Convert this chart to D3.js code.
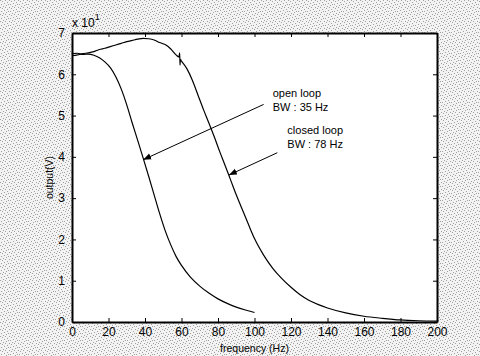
<!DOCTYPE html>
<html>
<head>
<meta charset="utf-8">
<script src="https://cdn.jsdelivr.net/npm/d3@7"></script>
<style>
  html, body { margin: 0; padding: 0; background: #fff; }
  svg { display: block; }
</style>
</head>
<body>
<svg id="chart" width="480" height="356"></svg>
<script>
// ---- data (values in units of 10 V, i.e. axis "x 10^1") ----
const openFreq  = [0, 3, 6, 9, 12, 15, 18, 21, 24, 27, 30, 33, 36, 39, 42, 45, 48, 51, 54, 57, 60, 65, 70, 75, 80, 85, 90, 95, 100];
const openVal   = [6.50, 6.51, 6.48, 6.49, 6.46, 6.40, 6.30, 6.16, 5.94, 5.64, 5.26, 4.82, 4.40, 3.97, 3.53, 3.08, 2.63, 2.22, 1.88, 1.59, 1.37, 1.08, 0.87, 0.70, 0.56, 0.45, 0.36, 0.29, 0.23];

const closedFreq = [0, 3, 6, 9, 12, 15, 18, 21, 24, 27, 30, 33, 36, 39, 42, 45, 48, 51, 54, 57, 58.6, 59, 59.2, 59.4, 60, 63, 66, 69, 72, 75, 78, 81, 84, 87, 90, 94, 97, 100, 105, 110, 115, 120, 125, 130, 135, 140, 150, 160, 170, 180, 190, 200];
const closedVal  = [6.45, 6.47, 6.50, 6.52, 6.55, 6.60, 6.63, 6.67, 6.71, 6.75, 6.79, 6.82, 6.85, 6.87, 6.86, 6.83, 6.77, 6.72, 6.62, 6.47, 6.42, 6.52, 6.22, 6.36, 6.32, 6.13, 5.85, 5.50, 5.15, 4.82, 4.48, 4.12, 3.78, 3.43, 3.08, 2.65, 2.33, 2.02, 1.62, 1.30, 1.05, 0.84, 0.66, 0.52, 0.42, 0.34, 0.22, 0.14, 0.09, 0.05, 0.03, 0.02];

const xTicks = [0, 20, 40, 60, 80, 100, 120, 140, 160, 180, 200];
const yTicks = [0, 1, 2, 3, 4, 5, 6, 7];

const annotations = [
  { lines: ["open loop", "BW : 35 Hz"], textF: 110, textV: 5.45, fromF: 105, fromV: 5.27, toF: 39, toV: 3.93 },
  { lines: ["closed loop", "BW : 78 Hz"], textF: 118, textV: 4.55, fromF: 112.5, fromV: 4.1, toF: 86, toV: 3.56 }
];

const xLabel = "frequency (Hz)";
const yLabel = "output(V)";

// ---- layout ----
const W = 480, H = 356;
const m = { left: 72, top: 33, right: 43, bottom: 34 };
const iw = W - m.left - m.right, ih = H - m.top - m.bottom;

const svg = d3.select("#chart");
const defs = svg.append("defs");

// light scan-like dither background
const pat = defs.append("pattern").attr("id", "dither")
  .attr("width", 9).attr("height", 7).attr("patternUnits", "userSpaceOnUse");
pat.append("rect").attr("width", 9).attr("height", 7).attr("fill", "#f3f3f3");
[[0,0],[5,0],[2,1],[7,2],[4,3],[1,4],[8,4],[6,5],[3,6]].forEach(([px, py]) =>
  pat.append("rect").attr("x", px).attr("y", py).attr("width", 1).attr("height", 1).attr("fill", "#a0a0a0"));
svg.append("rect").attr("width", W).attr("height", H).attr("fill", "url(#dither)");

// arrow marker
defs.append("marker").attr("id", "arrow")
  .attr("viewBox", "0 0 10 10").attr("refX", 10).attr("refY", 5)
  .attr("markerWidth", 8).attr("markerHeight", 8).attr("markerUnits", "userSpaceOnUse")
  .attr("orient", "auto")
  .append("path").attr("d", "M0,1 L10,5 L0,9 Z").attr("fill", "#000");

const g = svg.append("g").attr("transform", `translate(${m.left},${m.top})`);
g.append("rect").attr("width", iw).attr("height", ih).attr("fill", "#fff");

const x = d3.scaleLinear().domain([0, 200]).range([0, iw]);
const y = d3.scaleLinear().domain([0, 7]).range([ih, 0]);

const tickFont = "'Liberation Sans Narrow', 'Arial Narrow', Arial, sans-serif";

// axes (ticks inward on all sides)
const axB = g.append("g").attr("transform", `translate(0,${ih})`)
  .call(d3.axisBottom(x).tickValues(xTicks).tickSizeInner(-4).tickSizeOuter(0).tickPadding(5).tickFormat(d3.format("d")));
const axT = g.append("g")
  .call(d3.axisTop(x).tickValues(xTicks).tickSizeInner(-4).tickSizeOuter(0).tickFormat(""));
const axL = g.append("g")
  .call(d3.axisLeft(y).tickValues(yTicks).tickSizeInner(-4).tickSizeOuter(0).tickPadding(7).tickFormat(d3.format("d")));
const axR = g.append("g").attr("transform", `translate(${iw},0)`)
  .call(d3.axisRight(y).tickValues(yTicks).tickSizeInner(-4).tickSizeOuter(0).tickFormat(""));

[axB, axT, axL, axR].forEach(a => {
  a.select(".domain").attr("stroke", "#000").attr("stroke-width", 2);
  a.selectAll(".tick line").attr("stroke", "#000").attr("stroke-width", 1);
  a.selectAll("text").attr("fill", "#000").attr("font-family", tickFont).attr("font-size", 12);
});

// lines
const line = d3.line().x(d => x(d[0])).y(d => y(d[1])).curve(d3.curveMonotoneX);
const openData = openFreq.map((f, i) => [f, openVal[i]]);
const closedData = closedFreq.map((f, i) => [f, closedVal[i]]);

g.append("path").datum(openData).attr("d", line)
  .attr("fill", "none").attr("stroke", "#000").attr("stroke-width", 1.2);
g.append("path").datum(closedData).attr("d", line)
  .attr("fill", "none").attr("stroke", "#000").attr("stroke-width", 1.2);

// annotations
const annFont = "'Liberation Sans', Arial, sans-serif";
annotations.forEach(a => {
  g.append("line")
    .attr("x1", x(a.fromF)).attr("y1", y(a.fromV))
    .attr("x2", x(a.toF)).attr("y2", y(a.toV))
    .attr("stroke", "#000").attr("stroke-width", 1)
    .attr("marker-end", "url(#arrow)");
  const t = g.append("text").attr("x", x(a.textF)).attr("y", y(a.textV))
    .attr("font-family", annFont).attr("font-size", 11).attr("fill", "#000");
  a.lines.forEach((s, i) => t.append("tspan").attr("x", x(a.textF)).attr("dy", i === 0 ? 0 : 14).text(s));
});

// axis labels
svg.append("text").attr("x", m.left + iw / 2).attr("y", 352)
  .attr("text-anchor", "middle").attr("font-family", annFont).attr("font-size", 10.5).attr("fill", "#000")
  .text(xLabel);
svg.append("text").attr("transform", `translate(53,${m.top + ih / 2}) rotate(-90)`)
  .attr("text-anchor", "middle").attr("font-family", annFont).attr("font-size", 10.5).attr("fill", "#000")
  .text(yLabel);

// exponent label
const ex = svg.append("text").attr("x", 72).attr("y", 27)
  .attr("font-family", tickFont).attr("font-size", 12).attr("fill", "#000");
ex.append("tspan").text("x 10");
ex.append("tspan").attr("dy", -7).attr("font-size", 9).text("1");
</script>
</body>
</html>
